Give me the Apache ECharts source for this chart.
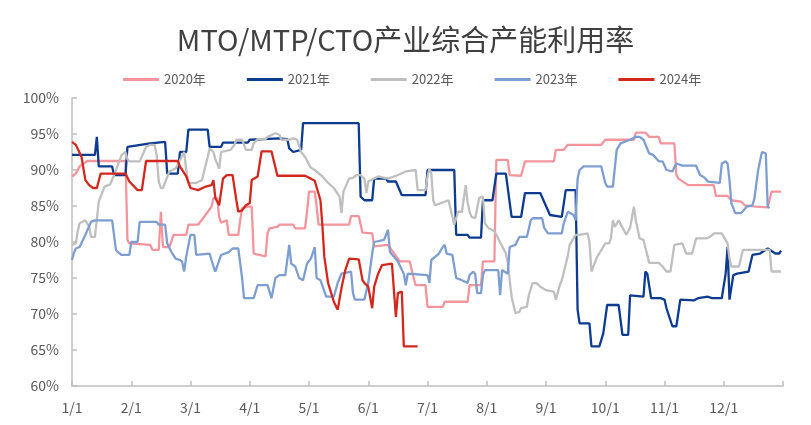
<!DOCTYPE html>
<html>
<head>
<meta charset="utf-8">
<script src="https://cdn.jsdelivr.net/npm/echarts@6/dist/echarts.min.js"></script>
<style>html,body{margin:0;padding:0;background:#fff}#c{width:811px;height:425px}</style>
</head>
<body>
<div id="c"></div>
<script>
const titleText = 'MTO/MTP/CTO产业综合产能利用率';
const seriesNames = ['2020年','2021年','2022年','2023年','2024年'];
const xLabels = ['1/1','2/1','3/1','4/1','5/1','6/1','7/1','8/1','9/1','10/1','11/1','12/1'];
const yTicks = [60,65,70,75,80,85,90,95,100];

const s2020 = [['1/1',89.1],['1/3',89.5],['1/5',90.5],['1/9',91.25],['1/29',91.25],['1/30',80.3],['1/31',79.8],['2/1',79.6],['2/10',79.6],['2/11',78.9],['2/14',78.9],['2/15',84.2],['2/16',79.3],['2/19',79.3],['2/21',81],['2/27',81],['2/28',82.4],['3/5',82.4],['3/6',82.6],['3/12',84.9],['3/13',86.1],['3/15',86.1],['3/16',83.5],['3/17',82.7],['3/20',83],['3/21',81],['3/26',81],['3/27',83],['3/28',84.7],['3/31',84.9],['4/2',84.9],['4/3',78.4],['4/9',78],['4/10',81.2],['4/11',81.9],['4/15',82.1],['4/16',82.4],['4/23',82.4],['4/24',81.9],['4/29',81.9],['4/30',84.2],['5/1',87],['5/4',87],['5/5',84.9],['5/6',82.4],['5/22',82.4],['5/23',83.6],['5/27',83.6],['5/29',81.3],['6/3',81.2],['6/4',79.4],['6/11',79.6],['6/17',77.3],['6/22',77.3],['6/24',75],['6/25',74],['6/30',74],['7/1',71],['7/9',71],['7/10',71.7],['7/22',71.7],['7/23',74],['7/29',74],['7/30',77.3],['8/5',77.3],['8/6',91.4],['8/12',91.4],['8/13',89.3],['8/19',89.2],['8/21',91.2],['9/5',91.2],['9/6',92.8],['9/10',92.8],['9/12',93.5],['9/29',93.5],['10/1',94.2],['10/16',94.2],['10/17',95.2],['10/22',95.2],['10/24',94.6],['10/29',94.6],['10/30',93.7],['11/6',93.7],['11/7',89.3],['11/8',88.8],['11/13',87.9],['11/26',87.9],['11/27',86.4],['12/3',86.4],['12/5',85.8],['12/10',85.6],['12/12',85.1],['12/18',84.9],['12/24',84.8],['12/26',87],['12/31',87]];

const s2021 = [['1/1',92.1],['1/13',92.1],['1/14',94.6],['1/15',90.5],['1/22',90.5],['1/23',89.3],['1/29',89.3],['1/30',93.2],['2/10',93.7],['2/17',93.9],['2/18',89.5],['2/23',89.5],['2/24',92.5],['2/27',92.5],['2/28',95.6],['3/10',95.6],['3/11',93.2],['3/17',93.2],['3/18',93.8],['3/31',93.8],['4/1',94.2],['4/16',94.4],['4/20',94.3],['4/21',93],['4/23',92.5],['4/27',92.8],['4/28',96.5],['5/27',96.5],['5/28',86.3],['5/30',85.8],['6/3',85.8],['6/4',88.8],['6/10',88.8],['6/11',88.4],['6/15',88.4],['6/18',86.5],['6/30',86.5],['7/1',90],['7/15',90],['7/16',81],['7/22',81],['7/23',80.6],['7/29',80.6],['7/30',85.8],['8/4',85.8],['8/6',89.5],['8/11',89.5],['8/14',83.5],['8/19',83.5],['8/21',86.8],['8/29',86.8],['9/3',83.75],['9/9',83.5],['9/11',87.2],['9/16',87.2],['9/17',70.6],['9/18',68.7],['9/23',68.7],['9/24',65.5],['9/28',65.5],['9/30',67.3],['10/2',71.25],['10/8',71.25],['10/10',67.1],['10/13',67.1],['10/14',72.6],['10/21',72.4],['10/22',75.9],['10/23',75.6],['10/25',72.2],['10/30',72.2],['11/1',72],['11/2',70.8],['11/5',68.3],['11/7',68.3],['11/9',72],['11/16',71.9],['11/18',72.2],['11/23',72.4],['11/25',72.2],['11/30',72.2],['12/2',75.6],['12/3',79.3],['12/4',72],['12/6',75.4],['12/8',75.6],['12/14',75.9],['12/16',78.2],['12/20',78.4],['12/24',79.1],['12/28',78.4],['12/30',78.4],['12/31',78.8]];

const s2022 = [['1/1',79.6],['1/3',79.8],['1/4',81.5],['1/5',82.6],['1/8',83],['1/10',82.1],['1/11',80.7],['1/13',80.7],['1/15',85.6],['1/16',85.6],['1/18',87.7],['1/21',88],['1/23',89.3],['1/26',91.4],['1/27',92.1],['1/29',92.5],['1/30',91.5],['1/31',91.2],['2/5',91.2],['2/8',93.2],['2/10',93.5],['2/12',93.5],['2/13',92.1],['2/14',88.4],['2/15',87.5],['2/16',87.5],['2/19',89.8],['2/22',90.2],['2/26',92.5],['2/27',90],['2/28',88.2],['3/4',88.2],['3/7',88.6],['3/10',91.8],['3/11',93],['3/13',92.5],['3/14',91.5],['3/16',90.2],['3/17',92.5],['3/22',92.8],['3/24',93.5],['3/25',94.2],['3/28',94.2],['3/30',92.8],['4/2',92.8],['4/3',93.7],['4/5',94.3],['4/9',94.3],['4/10',94.6],['4/14',95.1],['4/16',94.9],['4/17',94.2],['4/21',94.2],['4/23',94.4],['4/25',94.2],['4/27',92.5],['4/29',91.8],['5/2',90.3],['5/4',90],['5/8',89.1],['5/11',88.2],['5/14',87.5],['5/17',86.3],['5/18',84],['5/19',87],['5/22',88.8],['5/24',88.9],['5/26',89.3],['5/28',89.3],['5/30',88.8],['5/31',86.8],['6/1',88.4],['6/6',89.1],['6/11',88.8],['6/16',89.3],['6/20',89.8],['6/25',90],['6/26',87.2],['6/30',87.2],['7/1',89.1],['7/2',90.2],['7/3',89.5],['7/4',85.8],['7/5',85.1],['7/8',85.4],['7/12',85.8],['7/13',85.8],['7/15',82.4],['7/17',84.2],['7/19',84.2],['7/21',87.9],['7/22',85.5],['7/23',84.2],['7/24',83.5],['7/26',83.3],['7/28',86.1],['7/30',86.3],['7/31',82.6],['8/2',81.9],['8/5',81.5],['8/7',80.5],['8/11',78.4],['8/12',77.1],['8/13',74.7],['8/14',72.4],['8/16',70.1],['8/18',70.3],['8/19',70.8],['8/22',71],['8/23',72.6],['8/25',74.3],['8/27',74.3],['8/29',73.8],['9/1',73.3],['9/5',73.1],['9/6',72],['9/7',73],['9/8',74],['9/9',74.7],['9/12',78],['9/13',79.6],['9/16',81],['9/18',81],['9/22',81.2],['9/23',80],['9/24',75.9],['9/27',78],['9/28',78.4],['10/1',79.8],['10/3',79.8],['10/4',80.5],['10/5',83],['10/6',82.1],['10/8',83],['10/9',82.8],['10/12',81],['10/14',82],['10/16',84.9],['10/17',83],['10/19',80.5],['10/21',80.3],['10/24',77.1],['10/29',77.1],['10/31',76.6],['11/2',75.9],['11/4',75.9],['11/6',79.6],['11/10',79.8],['11/12',78.4],['11/15',78.4],['11/17',80.5],['11/22',80.5],['11/24',80.7],['11/26',81.2],['11/30',81.2],['12/3',79.8],['12/4',77.7],['12/5',76.6],['12/9',76.6],['12/11',78.9],['12/25',78.9],['12/26',75.9],['12/31',75.9]];

const s2023 = [['1/1',77.5],['1/2',78.5],['1/3',79.1],['1/5',79.3],['1/8',81],['1/11',82.8],['1/13',83],['1/22',83],['1/24',78.9],['1/25',78.6],['1/27',78.2],['1/31',78.2],['2/1',80],['2/4',80],['2/5',82.8],['2/13',82.8],['2/14',82.4],['2/17',82.4],['2/18',79.8],['2/20',78.6],['2/22',77.7],['2/24',77.5],['2/25',77.3],['2/26',75.9],['2/27',78],['3/1',81],['3/3',81],['3/4',78.2],['3/11',78.4],['3/13',76.6],['3/14',75.9],['3/17',78.2],['3/21',78.6],['3/23',79.1],['3/26',79.1],['3/28',75],['3/29',72.2],['4/3',72.2],['4/5',74],['4/10',74],['4/12',72.2],['4/14',75],['4/16',75.4],['4/19',75.4],['4/21',79.6],['4/22',77],['4/24',76.6],['4/26',75],['4/28',74.7],['4/30',77],['5/2',77.7],['5/3',77.7],['5/4',79.3],['5/5',75],['5/7',74.7],['5/10',72.4],['5/14',72.4],['5/16',74.3],['5/18',75.6],['5/23',75.9],['5/24',72.9],['5/25',72],['5/30',72],['6/1',74.3],['6/3',78.4],['6/4',80],['6/9',80.3],['6/11',81.7],['6/12',78.6],['6/16',77.3],['6/19',75.6],['6/20',74],['6/21',75.6],['7/1',75.4],['7/2',74.3],['7/3',77.5],['7/4',77.7],['7/7',78.4],['7/9',79.3],['7/10',79.6],['7/11',78.4],['7/14',78.2],['7/15',76.6],['7/16',75],['7/19',74.7],['7/22',74.3],['7/23',75.4],['7/25',75.9],['7/26',75.5],['7/27',72.9],['7/29',72.9],['7/30',75.4],['7/31',76.1],['8/7',76.1],['8/8',72.6],['8/9',76.1],['8/12',75.6],['8/13',79.3],['8/16',79.6],['8/18',80.7],['8/22',80.7],['8/24',83],['8/25',83.3],['8/30',83.3],['8/31',82],['9/2',81.2],['9/9',81.2],['9/10',82.6],['9/12',84.2],['9/15',83.75],['9/16',83],['9/17',88.8],['9/18',90],['9/20',90.5],['9/29',90.5],['10/1',88.2],['10/2',87.7],['10/5',87.7],['10/7',92.8],['10/9',93.7],['10/11',93.9],['10/14',94.2],['10/17',94.6],['10/19',94.6],['10/21',94.2],['10/24',92.3],['10/26',92.1],['10/29',91.2],['10/31',91.2],['11/2',90],['11/3',89.8],['11/5',89.8],['11/7',90.9],['11/10',90.6],['11/17',90.6],['11/19',89.3],['11/21',89],['11/23',88.4],['11/29',88.2],['11/30',90.9],['12/2',91.2],['12/3',90.9],['12/4',88.6],['12/5',85.4],['12/7',84],['12/10',84],['12/13',84.9],['12/16',85.1],['12/17',86],['12/19',90],['12/21',92.5],['12/23',92.3],['12/24',84.9],['12/25',84.7]];

const s2024 = [['1/1',93.9],['1/3',93.5],['1/6',91.8],['1/8',88.6],['1/10',87.9],['1/12',87.5],['1/14',87.5],['1/16',89.5],['1/29',89.5],['1/31',88.4],['2/4',87.2],['2/6',87.2],['2/8',91.25],['2/23',91.25],['2/24',90.5],['2/27',89.1],['3/1',87.5],['3/5',87.2],['3/9',87.7],['3/12',87.9],['3/13',88.6],['3/14',86.1],['3/16',85.1],['3/17',84.9],['3/18',88.8],['3/20',89.3],['3/23',89.3],['3/25',85.8],['3/26',84.2],['3/28',84.4],['3/30',85.1],['4/1',85.4],['4/2',88.6],['4/5',89.1],['4/7',92.6],['4/12',92.6],['4/15',89.2],['4/29',89.2],['5/2',88.8],['5/4',88.5],['5/7',85.8],['5/8',82.3],['5/9',78],['5/11',74.3],['5/14',71.7],['5/16',70.6],['5/17',70.6],['5/18',73.6],['5/20',76.1],['5/22',77.7],['5/27',77.6],['5/29',74.7],['5/30',74.3],['6/1',73.8],['6/3',70.8],['6/4',73.8],['6/6',75.6],['6/8',76.8],['6/13',77],['6/15',69.6],['6/16',72.9],['6/18',73.1],['6/19',65.5],['6/26',65.5]];

const seriesData = [s2020, s2021, s2022, s2023, s2024];
const colors = ['#F4959E', '#0C3B8F', '#BFBFBF', '#7F9ED0', '#D3281E'];

const monthLen = [31,28,31,30,31,30,31,31,30,31,30,31];
function pos(s) {
  const p = s.split('/').map(Number);
  return (p[0] - 1) + (p[1] - 1) / monthLen[p[0] - 1];
}

const chart = echarts.init(document.getElementById('c'), null, {renderer: 'canvas'});
const font = "'Noto Sans CJK SC', 'Noto Sans', sans-serif";
chart.setOption({
  animation: false,
  backgroundColor: '#ffffff',
  color: colors,
  title: {
    text: titleText, left: 'center', top: 20,
    textStyle: {fontSize: 29, fontWeight: 'normal', color: '#404040', fontFamily: font}
  },
  legend: {
    data: seriesNames, left: 118, top: 68, itemGap: 41,
    icon: 'rect', itemWidth: 36, itemHeight: 3,
    textStyle: {fontSize: 13, color: '#595959', fontFamily: font}
  },
  grid: {left: 72, right: 28, top: 98, bottom: 39},
  xAxis: {
    type: 'value', min: 0, max: 12, interval: 1,
    axisLine: {show: true, lineStyle: {color: '#BFBFBF', width: 1.5}},
    axisTick: {show: true, inside: true, length: 5, lineStyle: {color: '#BFBFBF', width: 1.5}},
    axisLabel: {
      margin: 15, fontSize: 14, color: '#595959', fontFamily: font,
      formatter: function (v) { return xLabels[Math.round(v)] || ''; }
    },
    splitLine: {show: false}
  },
  yAxis: {
    type: 'value', min: yTicks[0], max: yTicks[yTicks.length - 1], interval: 5,
    axisLine: {show: true, lineStyle: {color: '#BFBFBF', width: 1.5}},
    axisTick: {show: true, inside: true, length: 5, lineStyle: {color: '#BFBFBF', width: 1.5}},
    axisLabel: {margin: 13, fontSize: 14, color: '#595959', fontFamily: font, formatter: '{value}%'},
    splitLine: {show: false}
  },
  series: seriesNames.map(function (name, i) {
    return {
      name: name, type: 'line', showSymbol: false, symbol: 'none',
      z: 2 + i,
      lineStyle: {width: 2.3, color: colors[i]},
      itemStyle: {color: colors[i]},
      data: seriesData[i].map(function (d) { return [pos(d[0]), d[1]]; })
    };
  })
});
</script>
</body>
</html>
